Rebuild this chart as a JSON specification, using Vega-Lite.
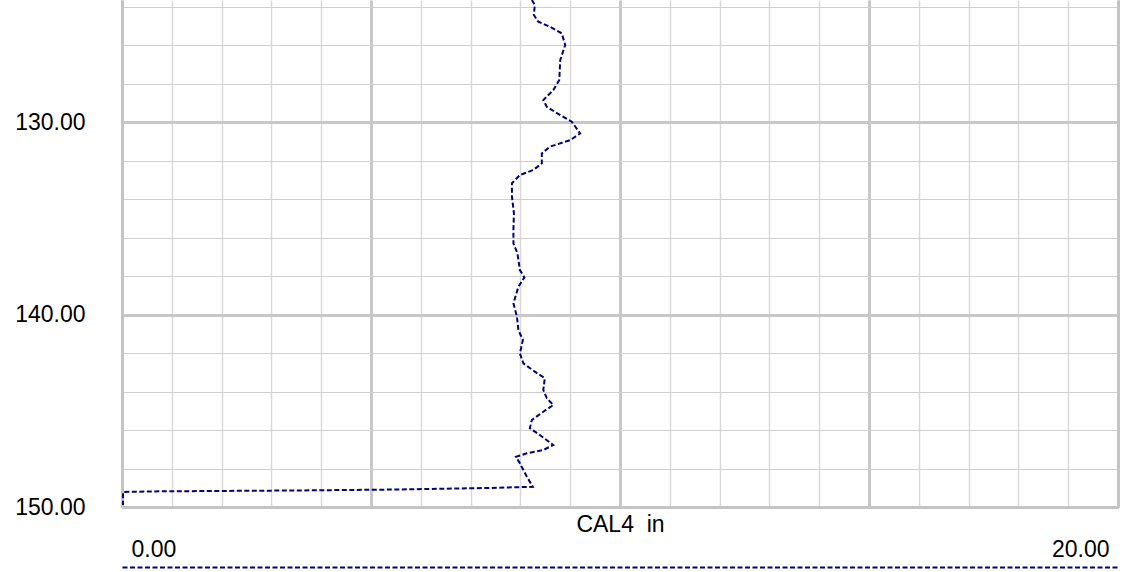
{
  "$schema": "https://vega.github.io/schema/vega-lite/v6.json",
  "width": 996,
  "height": 507,
  "autosize": {"type": "none"},
  "padding": {"left": 122, "top": 0, "right": 8, "bottom": 65},
  "background": "white",
  "config": {
    "view": {"stroke": null},
    "font": "Liberation Sans",
    "axis": {"labelFont": "Liberation Sans", "titleFont": "Liberation Sans"}
  },
  "data": {
    "values": [
      {"depth": 123.66, "cal": 8.23},
      {"depth": 123.92, "cal": 8.29},
      {"depth": 124.44, "cal": 8.27},
      {"depth": 124.79, "cal": 8.36},
      {"depth": 125.05, "cal": 8.59},
      {"depth": 125.39, "cal": 8.83},
      {"depth": 126.00, "cal": 8.90},
      {"depth": 126.78, "cal": 8.80},
      {"depth": 127.82, "cal": 8.78},
      {"depth": 128.34, "cal": 8.66},
      {"depth": 128.86, "cal": 8.46},
      {"depth": 129.21, "cal": 8.53},
      {"depth": 129.64, "cal": 8.80},
      {"depth": 129.98, "cal": 9.03},
      {"depth": 130.59, "cal": 9.20},
      {"depth": 130.94, "cal": 9.00},
      {"depth": 131.28, "cal": 8.59},
      {"depth": 131.63, "cal": 8.43},
      {"depth": 132.15, "cal": 8.43},
      {"depth": 132.49, "cal": 8.26},
      {"depth": 132.75, "cal": 7.99},
      {"depth": 133.18, "cal": 7.83},
      {"depth": 133.88, "cal": 7.83},
      {"depth": 134.74, "cal": 7.87},
      {"depth": 135.61, "cal": 7.86},
      {"depth": 136.30, "cal": 7.86},
      {"depth": 136.82, "cal": 7.94},
      {"depth": 137.69, "cal": 7.99},
      {"depth": 138.07, "cal": 8.08},
      {"depth": 138.56, "cal": 7.96},
      {"depth": 139.42, "cal": 7.86},
      {"depth": 140.11, "cal": 7.93},
      {"depth": 140.81, "cal": 7.96},
      {"depth": 141.32, "cal": 8.05},
      {"depth": 142.02, "cal": 7.99},
      {"depth": 142.54, "cal": 8.06},
      {"depth": 142.97, "cal": 8.29},
      {"depth": 143.31, "cal": 8.49},
      {"depth": 143.92, "cal": 8.46},
      {"depth": 144.35, "cal": 8.53},
      {"depth": 144.70, "cal": 8.66},
      {"depth": 145.05, "cal": 8.46},
      {"depth": 145.48, "cal": 8.23},
      {"depth": 145.91, "cal": 8.19},
      {"depth": 146.26, "cal": 8.39},
      {"depth": 146.78, "cal": 8.66},
      {"depth": 147.04, "cal": 8.46},
      {"depth": 147.21, "cal": 8.13},
      {"depth": 147.39, "cal": 7.91},
      {"depth": 147.73, "cal": 7.99},
      {"depth": 148.43, "cal": 8.13},
      {"depth": 148.95, "cal": 8.25},
      {"depth": 149.01, "cal": 7.39},
      {"depth": 149.09, "cal": 5.58},
      {"depth": 149.14, "cal": 3.57},
      {"depth": 149.19, "cal": 0.56},
      {"depth": 149.22, "cal": 0.02},
      {"depth": 149.90, "cal": 0.02}
    ]
  },
  "resolve": {"axis": {"x": "independent", "y": "independent"}},
  "layer": [
    {
      "mark": {"type": "line", "strokeOpacity": 0, "clip": true},
      "encoding": {
        "x": {
          "field": "cal", "type": "quantitative",
          "scale": {"domain": [0, 20], "nice": false, "zero": false},
          "axis": {
            "orient": "bottom", "offset": 60, "grid": false, "labels": false, "ticks": false, "title": null,
            "domain": true, "domainColor": "#000080", "domainWidth": 2, "domainDash": [5, 2.5]
          }
        },
        "y": {
          "field": "depth", "type": "quantitative",
          "scale": {"domain": [123.66, 150], "reverse": true, "nice": false, "zero": false},
          "axis": {
            "orient": "right", "grid": false, "labels": false, "ticks": false, "title": null,
            "domain": true, "domainColor": "#c4c4c4", "domainWidth": 3
          }
        },
        "order": {"field": "depth", "type": "quantitative"}
      }
    },
    {
      "mark": {"type": "line", "color": "#000080", "strokeWidth": 2, "strokeDash": [5, 2.5], "interpolate": "linear", "clip": true},
      "encoding": {
        "x": {
          "field": "cal", "type": "quantitative",
          "scale": {"domain": [0, 20], "nice": false, "zero": false},
          "axis": {
            "orient": "bottom",
            "values": [0,1,2,3,4,5,6,7,8,9,10,11,12,13,14,15,16,17,18,19,20],
            "grid": true,
            "gridColor": {"condition": {"test": "datum.value % 5 === 0", "value": "#c8c8c8"}, "value": "#d9d9d9"},
            "gridWidth": {"condition": {"test": "datum.value % 5 === 0", "value": 3}, "value": 1.5},
            "ticks": false,
            "domain": true, "domainColor": "#c4c4c4", "domainWidth": 3,
            "labelExpr": "datum.value === 0 || datum.value === 20 ? format(datum.value, '.2f') : ''",
            "labelFlush": true, "labelFlushOffset": -9, "labelOverlap": false,
            "labelPadding": 31, "labelFontSize": 23, "labelColor": "#000000",
            "title": "CAL4\u00a0 in", "titleFontSize": 23, "titleFontWeight": "normal", "titleColor": "#000000",
            "titleX": 498, "titleY": 24, "titleBaseline": "alphabetic", "titleAnchor": "middle", "titleAlign": "center"
          }
        },
        "y": {
          "field": "depth", "type": "quantitative",
          "scale": {"domain": [123.66, 150], "reverse": true, "nice": false, "zero": false},
          "axis": {
            "orient": "left",
            "values": [124,126,128,130,132,134,136,138,140,142,144,146,148,150],
            "grid": true,
            "gridColor": {"condition": {"test": "datum.value % 10 === 0", "value": "#c8c8c8"}, "value": "#cfcfcf"},
            "gridWidth": {"condition": {"test": "datum.value % 10 === 0", "value": 3}, "value": 1.2},
            "ticks": false,
            "domain": true, "domainColor": "#c4c4c4", "domainWidth": 3,
            "labelExpr": "datum.value % 10 === 0 ? format(datum.value, '.2f') : ''",
            "labelOverlap": false, "labelFlush": false,
            "labelPadding": 37, "labelFontSize": 23, "labelColor": "#000000",
            "title": null
          }
        },
        "order": {"field": "depth", "type": "quantitative"}
      }
    }
  ]
}
